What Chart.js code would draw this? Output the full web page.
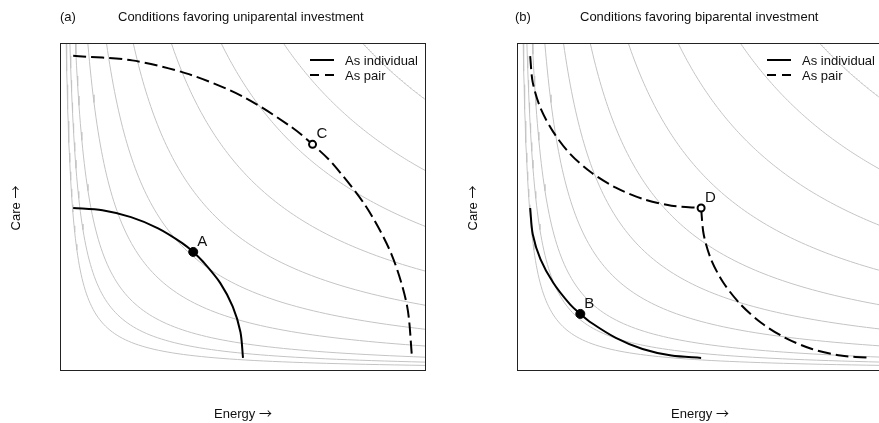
<!DOCTYPE html>
<html>
<head>
<meta charset="utf-8">
<script src="https://cdn.jsdelivr.net/npm/chart.js@4"></script>
<style>
  html, body { margin: 0; padding: 0; background: #fff; overflow: hidden; }
  body { width: 879px; height: 423px; position: relative; font-family: "Liberation Sans", Arial, sans-serif; color: #111; }
  canvas { position: absolute; top: 0; }
  .txt { position: absolute; font-size: 13px; line-height: 14px; height: 14px; white-space: nowrap; }
  .axis { width: 80px; text-align: center; }
  .rot { transform: rotate(-90deg); }
  .arr { font-family: "Noto Sans CJK JP", sans-serif; font-size: 13px; }
</style>
</head>
<body>
<canvas id="panelA" width="440" height="423" style="left:0"></canvas>
<canvas id="panelB" width="460" height="423" style="left:440px"></canvas>

<div class="txt" style="left:60px; top:10px">(a)</div>
<div class="txt" style="left:118px; top:10px">Conditions favoring uniparental investment</div>
<div class="txt" style="left:515px; top:10px">(b)</div>
<div class="txt" style="left:580px; top:10px">Conditions favoring biparental investment</div>

<div class="txt axis rot" style="left:-25px; top:201px">Care <span class="arr">→</span></div>
<div class="txt axis rot" style="left:432px; top:201px">Care <span class="arr">→</span></div>
<div class="txt axis" style="left:203px; top:406px">Energy <span class="arr">→</span></div>
<div class="txt axis" style="left:660px; top:406px">Energy <span class="arr">→</span></div>

<script>
// levels of the grey indifference curves (energy * care = level)
const levels = [0.017, 0.027, 0.042, 0.076, 0.127, 0.2, 0.304, 0.44, 0.61, 0.826];

// panel (a): trade-off frontiers
const soloA = [
  {x: 0.036, y: 0.497}, {x: 0.116, y: 0.490}, {x: 0.194, y: 0.469}, {x: 0.268, y: 0.435},
  {x: 0.334, y: 0.390}, {x: 0.364, y: 0.363}, {x: 0.391, y: 0.333}, {x: 0.438, y: 0.268},
  {x: 0.472, y: 0.196}, {x: 0.493, y: 0.119}, {x: 0.500, y: 0.040}
];
const pairA = [
  {x: 0.036, y: 0.961}, {x: 0.197, y: 0.947}, {x: 0.352, y: 0.905}, {x: 0.499, y: 0.837},
  {x: 0.631, y: 0.745}, {x: 0.690, y: 0.691}, {x: 0.745, y: 0.632}, {x: 0.837, y: 0.500},
  {x: 0.906, y: 0.355}, {x: 0.948, y: 0.200}, {x: 0.962, y: 0.040}
];
const markersA = [
  {x: 0.364, y: 0.363, label: 'A', open: false},
  {x: 0.690, y: 0.691, label: 'C', open: true}
];

// panel (b)
const soloB = [
  {x: 0.036, y: 0.497}, {x: 0.043, y: 0.417}, {x: 0.064, y: 0.341}, {x: 0.099, y: 0.269},
  {x: 0.145, y: 0.203}, {x: 0.173, y: 0.174}, {x: 0.203, y: 0.147}, {x: 0.270, y: 0.101},
  {x: 0.343, y: 0.067}, {x: 0.422, y: 0.047}, {x: 0.503, y: 0.040}
];
const pairBUpper = [
  {x: 0.036, y: 0.960}, {x: 0.043, y: 0.880}, {x: 0.064, y: 0.802}, {x: 0.099, y: 0.729},
  {x: 0.145, y: 0.662}, {x: 0.203, y: 0.605}, {x: 0.270, y: 0.559}, {x: 0.343, y: 0.525},
  {x: 0.422, y: 0.504}, {x: 0.503, y: 0.497}
];
const pairBLower = [
  {x: 0.503, y: 0.497}, {x: 0.510, y: 0.417}, {x: 0.530, y: 0.341}, {x: 0.564, y: 0.269},
  {x: 0.611, y: 0.203}, {x: 0.667, y: 0.147}, {x: 0.733, y: 0.101}, {x: 0.806, y: 0.067},
  {x: 0.884, y: 0.047}, {x: 0.965, y: 0.040}
];
const markersB = [
  {x: 0.173, y: 0.174, label: 'B', open: false},
  {x: 0.503, y: 0.497, label: 'D', open: true}
];

const DASH = [13, 5];

function isoline(k) {
  const pts = [];
  const n = 90;
  for (let i = 0; i <= n; i++) {
    const x = k * Math.pow(1 / k, i / n);
    pts.push({x: x, y: k / x});
  }
  return pts;
}

function greyCurves() {
  return levels.map(k => ({
    data: isoline(k),
    borderColor: '#c4c4c4',
    borderWidth: 1,
    pointRadius: 0,
    tension: 0,
    order: 5
  }));
}

function frontier(data, dashed) {
  return {
    data: data,
    borderColor: '#000',
    borderWidth: 2,
    borderDash: dashed ? DASH : [],
    pointRadius: 0,
    tension: 0.3,
    order: 2
  };
}

function marker(m) {
  return {
    data: [{x: m.x, y: m.y}],
    showLine: false,
    pointRadius: m.open ? 3.5 : 4.5,
    pointBorderWidth: m.open ? 2 : 1,
    pointBackgroundColor: m.open ? '#fff' : '#000',
    pointBorderColor: '#000',
    markerLabel: m.label,
    order: 1
  };
}

const framePlugin = {
  id: 'frame',
  afterDraw(chart) {
    const a = chart.chartArea, ctx = chart.ctx;
    ctx.save();
    ctx.strokeStyle = '#222';
    ctx.lineWidth = 1;
    ctx.strokeRect(a.left + 0.5, a.top + 0.5, a.right - a.left - 1, a.bottom - a.top - 1);
    ctx.restore();
  }
};

const keyPlugin = {
  id: 'key',
  afterDatasetsDraw(chart) {
    const a = chart.chartArea, ctx = chart.ctx;
    const x0 = a.left + 250, x1 = a.left + 274, tx = a.left + 285;
    const rows = [['As individual', []], ['As pair', [9, 6]]];
    ctx.save();
    ctx.font = '13px "Liberation Sans", Arial, sans-serif';
    ctx.textBaseline = 'middle';
    ctx.fillStyle = '#111';
    rows.forEach((r, i) => {
      const y = a.top + 17 + i * 15;
      ctx.strokeStyle = '#000';
      ctx.lineWidth = 2;
      ctx.setLineDash(r[1]);
      ctx.beginPath();
      ctx.moveTo(x0, y);
      ctx.lineTo(x1, y);
      ctx.stroke();
      ctx.setLineDash([]);
      ctx.fillText(r[0], tx, y + 1);
    });
    ctx.restore();
  }
};

const labelPlugin = {
  id: 'markerLabels',
  afterDatasetsDraw(chart) {
    const ctx = chart.ctx;
    ctx.save();
    ctx.font = '15px "Liberation Sans", Arial, sans-serif';
    ctx.fillStyle = '#111';
    ctx.textBaseline = 'alphabetic';
    chart.data.datasets.forEach((ds, i) => {
      if (!ds.markerLabel) return;
      const pt = chart.getDatasetMeta(i).data[0];
      ctx.fillText(ds.markerLabel, pt.x + 4, pt.y - 6);
    });
    ctx.restore();
  }
};

function makePanel(id, lines, markers, pad) {
  const datasets = greyCurves()
    .concat(lines.map(l => frontier(l[0], l[1])))
    .concat(markers.map(marker));
  new Chart(document.getElementById(id), {
    type: 'line',
    data: { datasets: datasets },
    options: {
      responsive: false,
      animation: false,
      layout: { padding: pad },
      scales: {
        x: { type: 'linear', min: 0, max: 1, display: false },
        y: { type: 'linear', min: 0, max: 1, display: false }
      },
      plugins: { legend: { display: false }, tooltip: { enabled: false } }
    },
    plugins: [framePlugin, keyPlugin, labelPlugin]
  });
}

makePanel('panelA', [[soloA, false], [pairA, true]], markersA,
  {left: 60, right: 14, top: 43, bottom: 52});
makePanel('panelB', [[soloB, false], [pairBUpper, true], [pairBLower, true]], markersB,
  {left: 77, right: 17, top: 43, bottom: 52});
</script>
</body>
</html>
